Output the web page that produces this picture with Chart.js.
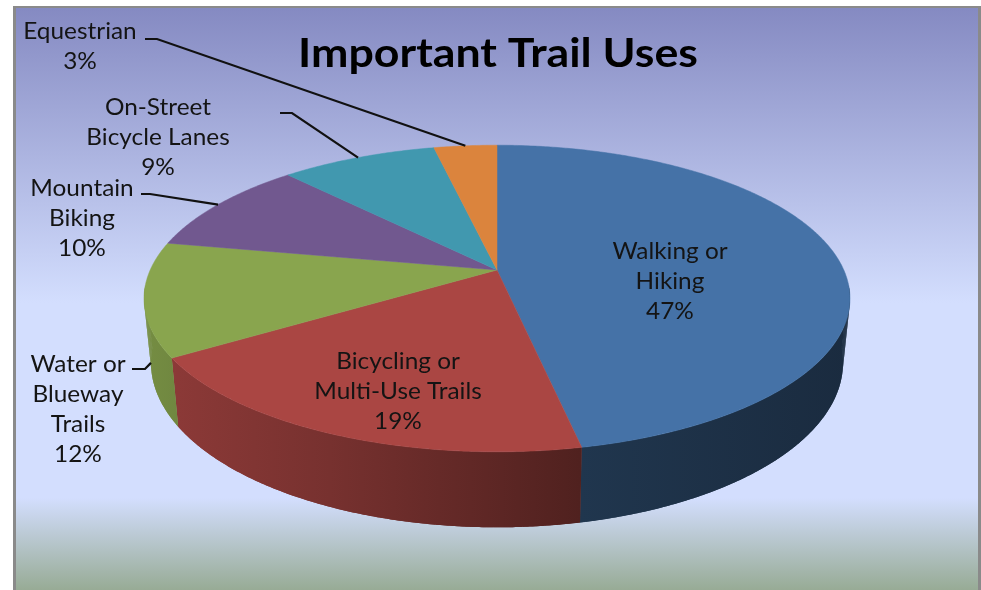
<!DOCTYPE html>
<html>
<head>
<meta charset="utf-8">
<title>Important Trail Uses</title>
<script src="https://cdn.jsdelivr.net/npm/chart.js@4"></script>
<style>
    html, body { margin: 0; padding: 0; background: #fff; overflow: hidden; }
    #frame {
        position: absolute; left: 13px; top: 6px; width: 962px; height: 600px;
        border: 3px solid #8a8a8a;
        border-top-width: 2px;
        background: linear-gradient(to bottom, #858ac2 0px, #d3defe 295px, #d3defe 490px, #96aa93 584px);
    }
    #wrap { position: absolute; left: 0; top: 0; width: 981px; height: 590px; }
</style>
</head>
<body>
<div id="frame"></div>
<div id="wrap"><canvas id="trailChart" width="981" height="590"></canvas></div>
<script>
const chartTitle = "Important Trail Uses";
const categories = [
    "Walking or\nHiking",
    "Bicycling or\nMulti-Use Trails",
    "Water or\nBlueway\nTrails",
    "Mountain\nBiking",
    "On-Street\nBicycle Lanes",
    "Equestrian",
];
const shares = [46.8, 19.2, 12, 10, 8.55, 3.45];
const sliceColors = ["#4572a7", "#aa4643", "#89a54e", "#71588f", "#4198af", "#db843d"];

// label centre x, first baseline y, then optional leader: start x, elbow x, elbow y, which disc it lands on
const labelLayout = [
    { x: 670, y: 259 },
    { x: 398, y: 369 },
    { x: 78, y: 372, leader: [132, 145, 369, "bottom"] },
    { x: 82, y: 196, leader: [141, 150, 194, "top"] },
    { x: 158, y: 115, leader: [280, 292, 113, "top"] },
    { x: 80, y: 39, leader: [145, 157, 39, "top"] },
];

const discs = {
    top: { cx: 497, cy: 270, a: 346.8, b: 148, k: 0.186 },
    bottom: { cx: 497, cy: 332, a: 340, b: 159, k: 0.186 },
};

// wall darkening from left to right: x, factor
const wallShades = [[150, 0.85], [178, 0.82], [330, 0.7], [580, 0.47], [850, 0.38]];

function project(angle, disc) {
    const u = Math.cos(angle);
    const v = Math.sin(angle);
    const w = 1 - disc.k * v;
    return { x: disc.cx + (disc.a * u) / w, y: disc.cy + (disc.b * v) / w };
}

function shadeColor(hex, f) {
    const n = parseInt(hex.slice(1), 16);
    const r = Math.round(((n >> 16) & 255) * f);
    const g = Math.round(((n >> 8) & 255) * f);
    const b = Math.round((n & 255) * f);
    return `rgb(${r}, ${g}, ${b})`;
}

function traceArc(ctx, start, end, disc, reverse) {
    const steps = Math.max(2, Math.ceil((end - start) / (Math.PI / 360)));
    for (let s = 0; s <= steps; s++) {
        const t = reverse ? 1 - s / steps : s / steps;
        const p = project(start + (end - start) * t, disc);
        ctx.lineTo(p.x, p.y);
    }
}

// the reference text is a little wider than the font, so stretch it sideways
function wideText(ctx, text, x, y, stretch) {
    ctx.save();
    ctx.translate(x, y);
    ctx.scale(stretch, 1);
    ctx.fillText(text, 0, 0);
    ctx.restore();
}

const pie3dPlugin = {
    id: "pie3d",
    beforeDatasetDraw(chart, args) {
        const ctx = chart.ctx;
        const arcs = chart.getDatasetMeta(args.index).data;

        ctx.save();
        // only the front of the wall shows, the rest sits behind the top face
        arcs.forEach((arc, i) => {
            const start = Math.max(arc.startAngle, 0.1);
            const end = Math.min(arc.endAngle, Math.PI - 0.1);
            if (end <= start) return;
            const gradient = ctx.createLinearGradient(150, 0, 850, 0);
            wallShades.forEach(([x, f]) => {
                gradient.addColorStop((x - 150) / 700, shadeColor(sliceColors[i], f));
            });
            ctx.fillStyle = gradient;
            ctx.beginPath();
            traceArc(ctx, start, end, discs.top, false);
            traceArc(ctx, start, end, discs.bottom, true);
            ctx.closePath();
            ctx.fill();
            // the arcs cross near the sides, so fill piece by piece as well to get the full silhouette
            const step = Math.PI / 180;
            for (let a = start; a < end; a += step) {
                const b = Math.min(a + step, end);
                ctx.beginPath();
                traceArc(ctx, a, b, discs.top, false);
                traceArc(ctx, a, b, discs.bottom, true);
                ctx.closePath();
                ctx.fill();
            }
        });

        arcs.forEach((arc, i) => {
            ctx.beginPath();
            ctx.moveTo(discs.top.cx, discs.top.cy);
            traceArc(ctx, arc.startAngle, arc.endAngle, discs.top, false);
            ctx.closePath();
            ctx.fillStyle = sliceColors[i];
            ctx.strokeStyle = sliceColors[i];
            ctx.lineWidth = 0.5;
            ctx.fill();
            ctx.stroke();
        });

        ctx.textAlign = "center";
        ctx.textBaseline = "alphabetic";
        ctx.fillStyle = "#000";
        ctx.font = "bold 41px Lato";
        wideText(ctx, chartTitle, 498, 67, 1.09);

        ctx.font = "23px Lato";
        ctx.fillStyle = "#141414";
        ctx.strokeStyle = "#111";
        ctx.lineWidth = 2.2;
        arcs.forEach((arc, i) => {
            const layout = labelLayout[i];
            const lines = categories[i].split("\n");
            lines.push(`${Math.round(shares[i])}%`);
            lines.forEach((line, j) => {
                wideText(ctx, line, layout.x, layout.y + j * 30, 1.06);
            });
            if (layout.leader) {
                const [startX, elbowX, elbowY, disc] = layout.leader;
                const end = project((arc.startAngle + arc.endAngle) / 2, discs[disc]);
                ctx.beginPath();
                ctx.moveTo(startX, elbowY);
                ctx.lineTo(elbowX, elbowY);
                ctx.lineTo(end.x, end.y);
                ctx.stroke();
            }
        });
        ctx.restore();
        return false;
    },
};

new Chart(document.getElementById("trailChart"), {
    type: "pie",
    data: {
        labels: categories,
        datasets: [{ data: shares, backgroundColor: sliceColors, borderWidth: 0 }],
    },
    options: {
        responsive: false,
        animation: false,
        plugins: {
            legend: { display: false },
            tooltip: { enabled: false },
        },
    },
    plugins: [pie3dPlugin],
});
</script>
</body>
</html>
